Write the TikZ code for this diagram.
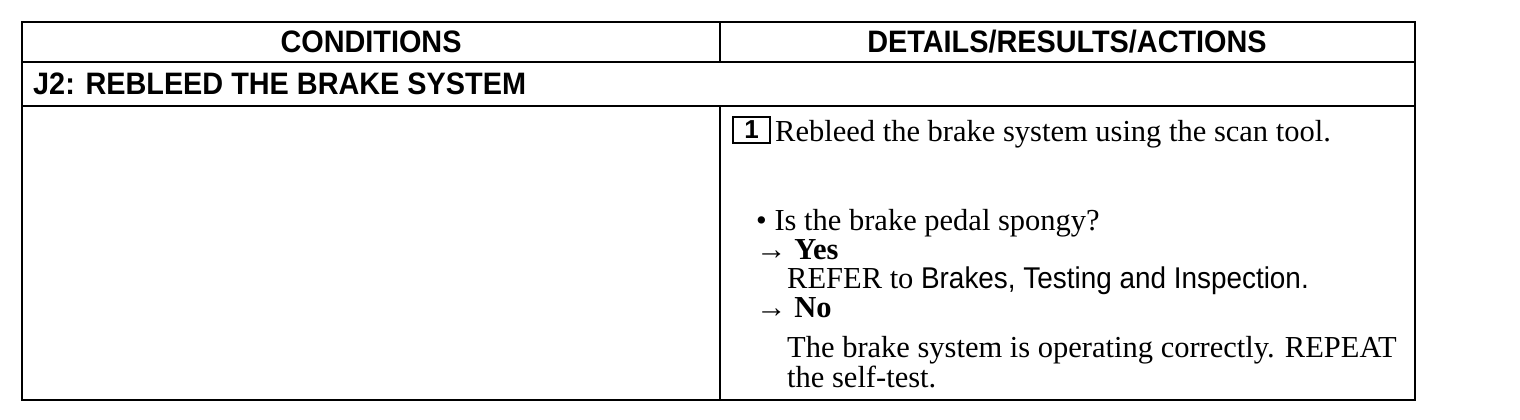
\documentclass[tikz,border=0pt]{standalone}
\usepackage{fontspec}
\setmainfont{Liberation Serif}
\newfontfamily\hsans{Liberation Sans}[FakeStretch=0.93]
\newfontfamily\bsans{Liberation Sans}
\begin{document}
\begin{tikzpicture}[x=1pt,y=-1pt]
\useasboundingbox (0,0) rectangle (1520,420);
\tikzset{
  grid/.style={line width=2.2pt, black},
  hdr/.style={font=\hsans\bfseries\fontsize{31}{34}\selectfont, inner sep=0pt},
  body/.style={font=\fontsize{30.5}{34}\selectfont, anchor=base west, inner sep=0pt},
  numbox/.style={draw, line width=1.6pt, minimum width=37pt, minimum height=26pt, inner sep=0pt,
    font=\bsans\bfseries\fontsize{26}{28}\selectfont},
}
% table frame
\draw[grid] (22,22) rectangle (1415,400);
\draw[grid] (22,62) -- (1415,62);
\draw[grid] (22,106) -- (1415,106);
\draw[grid] (720,22) -- (720,62);
\draw[grid] (720,106) -- (720,400);
% headers
\node[hdr] (h1) at (371,42) {CONDITIONS};
\node[hdr] (h2) at (1067,42) {DETAILS/RESULTS/ACTIONS};
\node[hdr, anchor=west] (j2) at (33,84) {J2: REBLEED THE BRAKE SYSTEM};
% body
\node[numbox] (b1) at (751.5,130) {1};
\node[body] (t1) at (775,141) {Rebleed the brake system using the scan tool.};
\node[body] (t2) at (756,230) {• Is the brake pedal spongy?};
\node[body] (t3) at (756,259) {→ \textbf{Yes}};
\node[body] (t4) at (787,288) {REFER to {\hsans\fontsize{30}{34}\selectfont Brakes, Testing and Inspection.}};
\node[body] (t5) at (756,317) {→ \textbf{No}};
\node[body] (t6) at (787,357) {The brake system is operating correctly. REPEAT};
\node[body] (t7) at (787,387) {the self-test.};
\end{tikzpicture}
\end{document}
